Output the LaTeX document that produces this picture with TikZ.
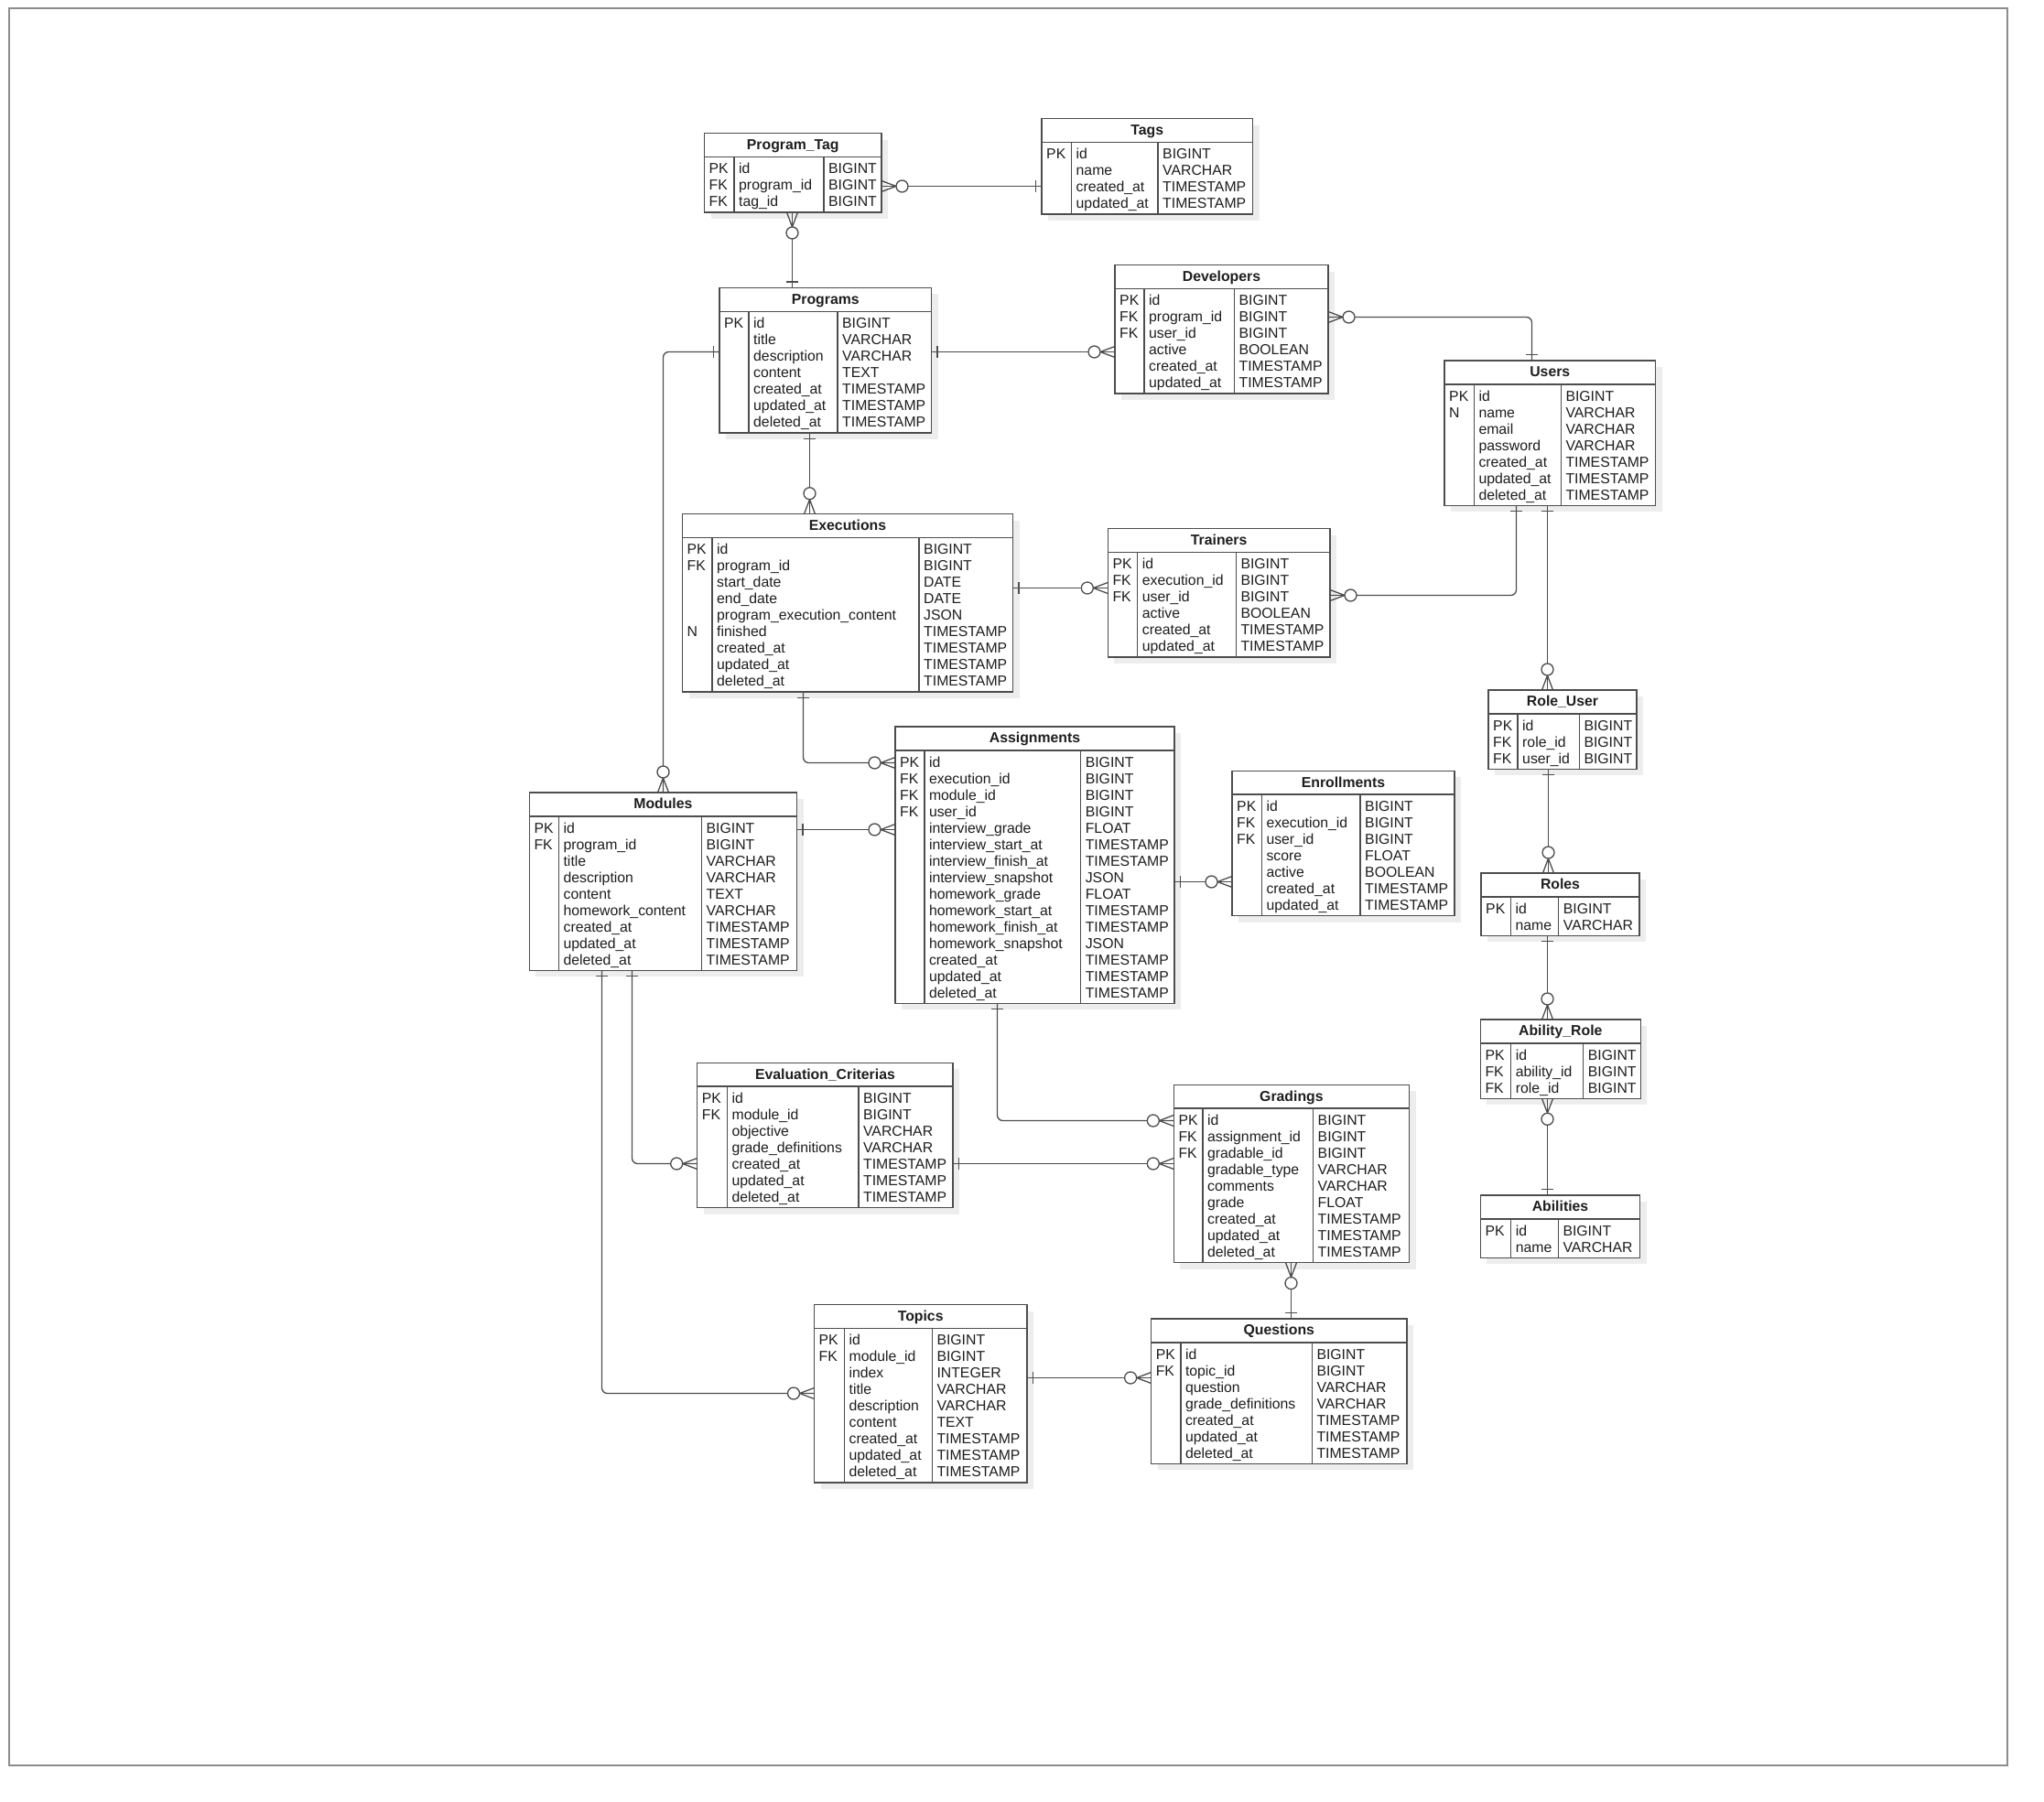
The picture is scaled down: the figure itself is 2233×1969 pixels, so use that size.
\documentclass[tikz,border=0pt]{standalone}
\usepackage{fontspec}
\setmainfont{Liberation Sans}
\usetikzlibrary{calc}

\definecolor{linec}{HTML}{4D4D4D}
\definecolor{framec}{HTML}{8C8C8C}
\definecolor{shadowc}{HTML}{EDEDED}
\definecolor{textc}{HTML}{1E1E1E}

\tikzset{
  connline/.style={draw=linec, line width=1.3pt, rounded corners=6pt},
  markline/.style={draw=linec, line width=1.3pt},
  boxline/.style={draw=linec, line width=1.4pt},
  tablebox/.style={draw=linec, line width=1.5pt, fill=white, inner sep=0pt, outer sep=0pt, anchor=north west},
  cell/.style={inner sep=0pt, anchor=base west, text=textc, font=\fontsize{15.8}{18}\selectfont},
  tabtitle/.style={inner sep=0pt, anchor=base, text=textc, font=\fontsize{15.8}{18}\selectfont\bfseries},
  onebar/.pic={\draw[markline] (6.5,-6.5) -- (6.5,6.5);},
  zeromany/.pic={\draw[markline] (0,-6) -- (16,0) -- (0,6);
                 \draw[markline, fill=white] (22.5,0) circle[radius=6.5pt];}
}

% \ertable{name}{title}{left}{top}{right}{divider1}{divider2}{rows}{key/column/type list}
\newcommand{\ertable}[9]{%
  \pgfmathsetmacro\erbot{#4+25.8+18*#8+6.5}%
  \pgfmathsetmacro\erw{#5-#3}%
  \pgfmathsetmacro\erh{\erbot-#4}%
  \fill[shadowc] ({#3+7},{#4+7}) rectangle ({#5+7},{\erbot+7});
  \node[tablebox, minimum width=\erw pt, minimum height=\erh pt] (#1) at (#3,#4) {};
  \draw[boxline] (#3,{#4+25.8}) -- (#5,{#4+25.8});
  \draw[boxline] (#6,{#4+25.8}) -- (#6,\erbot);
  \draw[boxline] (#7,{#4+25.8}) -- (#7,\erbot);
  \node[tabtitle] (#1-title) at ({(#3+#5)/2},{#4+17.8}) {#2};
  \foreach \colk/\coln/\colt [count=\i] in {#9} {
    \pgfmathsetmacro\ry{#4+44.1+18*(\i-1)}
    \node[cell] (#1-k\i) at ({#3+5},\ry) {\colk};
    \node[cell] (#1-n\i) at ({#6+5},\ry) {\coln};
    \node[cell] (#1-t\i) at ({#7+5},\ry) {\colt};
  }
}

\begin{document}
\begin{tikzpicture}[x=1pt, y=-1pt]
\useasboundingbox (0,0) rectangle (2233,1969);
\draw[framec, line width=2pt] (9.5,9.5) rectangle (2192.5,1928.5);

% ---------- tables ----------
\ertable{ptag}{Program\_Tag}{769.5}{145.7}{963}{802}{900}{3}{PK/id/BIGINT, FK/program\_id/BIGINT, FK/tag\_id/BIGINT}
\ertable{tags}{Tags}{1138}{129.7}{1368.5}{1170.5}{1265}{4}{PK/id/BIGINT, /name/VARCHAR, /created\_at/TIMESTAMP, /updated\_at/TIMESTAMP}
\ertable{programs}{Programs}{786}{314.5}{1017.5}{818}{915}{7}{PK/id/BIGINT, /title/VARCHAR, /description/VARCHAR, /content/TEXT, /created\_at/TIMESTAMP, /updated\_at/TIMESTAMP, /deleted\_at/TIMESTAMP}
\ertable{developers}{Developers}{1218}{289.7}{1451}{1250}{1348.4}{6}{PK/id/BIGINT, FK/program\_id/BIGINT, FK/user\_id/BIGINT, /active/BOOLEAN, /created\_at/TIMESTAMP, /updated\_at/TIMESTAMP}
\ertable{users}{Users}{1578}{394}{1808.5}{1610.3}{1705.3}{7}{PK/id/BIGINT, N/name/VARCHAR, /email/VARCHAR, /password/VARCHAR, /created\_at/TIMESTAMP, /updated\_at/TIMESTAMP, /deleted\_at/TIMESTAMP}
\ertable{executions}{Executions}{745.5}{561.7}{1106.5}{778}{1004}{9}{PK/id/BIGINT, FK/program\_id/BIGINT, /start\_date/DATE, /end\_date/DATE, /program\_execution\_content/JSON, N/finished/TIMESTAMP, /created\_at/TIMESTAMP, /updated\_at/TIMESTAMP, /deleted\_at/TIMESTAMP}
\ertable{trainers}{Trainers}{1210.3}{577.7}{1453}{1242.7}{1350.3}{6}{PK/id/BIGINT, FK/execution\_id/BIGINT, FK/user\_id/BIGINT, /active/BOOLEAN, /created\_at/TIMESTAMP, /updated\_at/TIMESTAMP}
\ertable{modules}{Modules}{578.3}{866}{870.5}{610.4}{766.5}{9}{PK/id/BIGINT, FK/program\_id/BIGINT, /title/VARCHAR, /description/VARCHAR, /content/TEXT, /homework\_content/VARCHAR, /created\_at/TIMESTAMP, /updated\_at/TIMESTAMP, /deleted\_at/TIMESTAMP}
\ertable{assignments}{Assignments}{978}{794}{1283}{1009.8}{1180.6}{15}{PK/id/BIGINT, FK/execution\_id/BIGINT, FK/module\_id/BIGINT, FK/user\_id/BIGINT, /interview\_grade/FLOAT, /interview\_start\_at/TIMESTAMP, /interview\_finish\_at/TIMESTAMP, /interview\_snapshot/JSON, /homework\_grade/FLOAT, /homework\_start\_at/TIMESTAMP, /homework\_finish\_at/TIMESTAMP, /homework\_snapshot/JSON, /created\_at/TIMESTAMP, /updated\_at/TIMESTAMP, /deleted\_at/TIMESTAMP}
\ertable{enrollments}{Enrollments}{1346}{842.3}{1589}{1378.3}{1486}{7}{PK/id/BIGINT, FK/execution\_id/BIGINT, FK/user\_id/BIGINT, /score/FLOAT, /active/BOOLEAN, /created\_at/TIMESTAMP, /updated\_at/TIMESTAMP}
\ertable{roleuser}{Role\_User}{1626}{754}{1788}{1658}{1725.3}{3}{PK/id/BIGINT, FK/role\_id/BIGINT, FK/user\_id/BIGINT}
\ertable{roles}{Roles}{1618}{954}{1791}{1650.3}{1702.7}{2}{PK/id/BIGINT, /name/VARCHAR}
\ertable{abilityrole}{Ability\_Role}{1617.3}{1114}{1792.3}{1650.7}{1729.7}{3}{PK/id/BIGINT, FK/ability\_id/BIGINT, FK/role\_id/BIGINT}
\ertable{abilities}{Abilities}{1617.3}{1306}{1791.7}{1650.7}{1702.3}{2}{PK/id/BIGINT, /name/VARCHAR}
\ertable{evalc}{Evaluation\_Criterias}{761.7}{1161.3}{1041.2}{794.4}{937.9}{7}{PK/id/BIGINT, FK/module\_id/BIGINT, /objective/VARCHAR, /grade\_definitions/VARCHAR, /created\_at/TIMESTAMP, /updated\_at/TIMESTAMP, /deleted\_at/TIMESTAMP}
\ertable{gradings}{Gradings}{1282.3}{1185.3}{1539.5}{1313.9}{1434.5}{9}{PK/id/BIGINT, FK/assignment\_id/BIGINT, FK/gradable\_id/BIGINT, /gradable\_type/VARCHAR, /comments/VARCHAR, /grade/FLOAT, /created\_at/TIMESTAMP, /updated\_at/TIMESTAMP, /deleted\_at/TIMESTAMP}
\ertable{topics}{Topics}{889.5}{1425.7}{1121.8}{922.4}{1018.3}{9}{PK/id/BIGINT, FK/module\_id/BIGINT, /index/INTEGER, /title/VARCHAR, /description/VARCHAR, /content/TEXT, /created\_at/TIMESTAMP, /updated\_at/TIMESTAMP, /deleted\_at/TIMESTAMP}
\ertable{questions}{Questions}{1257.6}{1441}{1537}{1289.8}{1433.3}{7}{PK/id/BIGINT, FK/topic\_id/BIGINT, /question/VARCHAR, /grade\_definitions/VARCHAR, /created\_at/TIMESTAMP, /updated\_at/TIMESTAMP, /deleted\_at/TIMESTAMP}

% ---------- relationship lines ----------
\draw[connline] (ptag.east |- 0,203.5) -- (tags.west |- 0,203.5);
\draw[connline] (ptag.south -| 865.5,0) -- (programs.north -| 865.5,0);
\draw[connline] (programs.east |- 0,384.5) -- (developers.west |- 0,384.5);
\draw[connline] (programs.west |- 0,384.5) -| (modules.north -| 724.5,0);
\draw[connline] (programs.south -| 884.5,0) -- (executions.north -| 884.5,0);
\draw[connline] (developers.east |- 0,346.5) -| (users.north -| 1673.5,0);
\draw[connline] (executions.east |- 0,642.5) -- (trainers.west |- 0,642.5);
\draw[connline] (trainers.east |- 0,650.5) -| (users.south -| 1656.5,0);
\draw[connline] (users.south -| 1690.5,0) -- (roleuser.north -| 1690.5,0);
\draw[connline] (executions.south -| 877.5,0) |- (assignments.west |- 0,833.5);
\draw[connline] (modules.east |- 0,906.5) -- (assignments.west |- 0,906.5);
\draw[connline] (assignments.east |- 0,963.5) -- (enrollments.west |- 0,963.5);
\draw[connline] (roleuser.south -| 1691.5,0) -- (roles.north -| 1691.5,0);
\draw[connline] (roles.south -| 1690.5,0) -- (abilityrole.north -| 1690.5,0);
\draw[connline] (abilityrole.south -| 1690.5,0) -- (abilities.north -| 1690.5,0);
\draw[connline] (modules.south -| 690.5,0) |- (evalc.west |- 0,1271.5);
\draw[connline] (modules.south -| 657.5,0) |- (topics.west |- 0,1522.5);
\draw[connline] (assignments.south -| 1089.5,0) |- (gradings.west |- 0,1224.5);
\draw[connline] (evalc.east |- 0,1271.5) -- (gradings.west |- 0,1271.5);
\draw[connline] (gradings.south -| 1410.5,0) -- (questions.north -| 1410.5,0);
\draw[connline] (topics.east |- 0,1505.5) -- (questions.west |- 0,1505.5);

% ---------- cardinality marks ----------
\pic at (ptag.east |- 0,203.5) {zeromany};
\pic[rotate=180] at (tags.west |- 0,203.5) {onebar};
\pic[rotate=270] at (ptag.south -| 865.5,0) {zeromany};
\pic[rotate=90] at (programs.north -| 865.5,0) {onebar};
\pic at (programs.east |- 0,384.5) {onebar};
\pic[rotate=180] at (developers.west |- 0,384.5) {zeromany};
\pic[rotate=180] at (programs.west |- 0,384.5) {onebar};
\pic[rotate=90] at (modules.north -| 724.5,0) {zeromany};
\pic[rotate=270] at (programs.south -| 884.5,0) {onebar};
\pic[rotate=90] at (executions.north -| 884.5,0) {zeromany};
\pic at (developers.east |- 0,346.5) {zeromany};
\pic[rotate=90] at (users.north -| 1673.5,0) {onebar};
\pic at (executions.east |- 0,642.5) {onebar};
\pic[rotate=180] at (trainers.west |- 0,642.5) {zeromany};
\pic at (trainers.east |- 0,650.5) {zeromany};
\pic[rotate=270] at (users.south -| 1656.5,0) {onebar};
\pic[rotate=270] at (users.south -| 1690.5,0) {onebar};
\pic[rotate=90] at (roleuser.north -| 1690.5,0) {zeromany};
\pic[rotate=270] at (executions.south -| 877.5,0) {onebar};
\pic[rotate=180] at (assignments.west |- 0,833.5) {zeromany};
\pic at (modules.east |- 0,906.5) {onebar};
\pic[rotate=180] at (assignments.west |- 0,906.5) {zeromany};
\pic at (assignments.east |- 0,963.5) {onebar};
\pic[rotate=180] at (enrollments.west |- 0,963.5) {zeromany};
\pic[rotate=270] at (roleuser.south -| 1691.5,0) {onebar};
\pic[rotate=90] at (roles.north -| 1691.5,0) {zeromany};
\pic[rotate=270] at (roles.south -| 1690.5,0) {onebar};
\pic[rotate=90] at (abilityrole.north -| 1690.5,0) {zeromany};
\pic[rotate=270] at (abilityrole.south -| 1690.5,0) {zeromany};
\pic[rotate=90] at (abilities.north -| 1690.5,0) {onebar};
\pic[rotate=270] at (modules.south -| 690.5,0) {onebar};
\pic[rotate=180] at (evalc.west |- 0,1271.5) {zeromany};
\pic[rotate=270] at (modules.south -| 657.5,0) {onebar};
\pic[rotate=180] at (topics.west |- 0,1522.5) {zeromany};
\pic[rotate=270] at (assignments.south -| 1089.5,0) {onebar};
\pic[rotate=180] at (gradings.west |- 0,1224.5) {zeromany};
\pic at (evalc.east |- 0,1271.5) {onebar};
\pic[rotate=180] at (gradings.west |- 0,1271.5) {zeromany};
\pic[rotate=270] at (gradings.south -| 1410.5,0) {zeromany};
\pic[rotate=90] at (questions.north -| 1410.5,0) {onebar};
\pic at (topics.east |- 0,1505.5) {onebar};
\pic[rotate=180] at (questions.west |- 0,1505.5) {zeromany};
\end{tikzpicture}
\end{document}
